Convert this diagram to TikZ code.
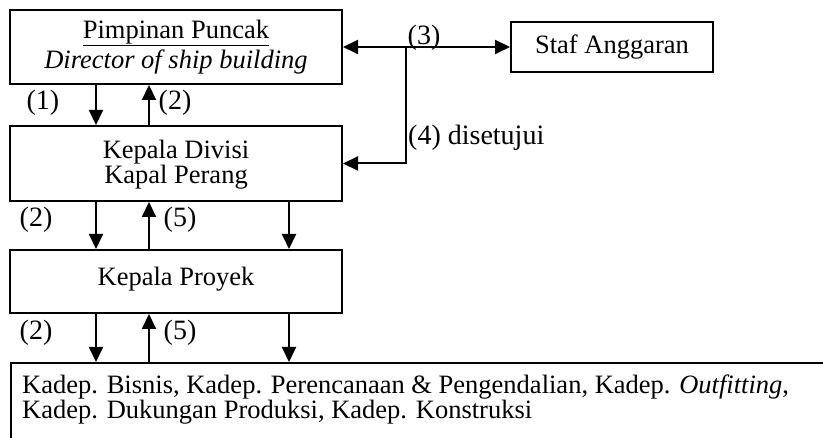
\documentclass[tikz,border=0pt]{standalone}
\usepackage{fontspec}
\setmainfont{Liberation Serif}
\usetikzlibrary{arrows.meta}
\tikzset{
  boxn/.style={draw, line width=2pt, rectangle, inner sep=0pt},
  btxt/.style={font=\fontsize{26.5}{28}\selectfont, inner sep=0pt, align=center},
  lbl/.style={font=\fontsize{28}{30}\selectfont, inner sep=0pt},
  arr/.style={line width=2pt, -{Triangle[length=15pt,width=14pt]}},
}
\begin{document}
\begin{tikzpicture}[x=1pt,y=-1pt]
\useasboundingbox (0,0) rectangle (823,438);
% boxes
\node[boxn, minimum width=332pt, minimum height=74pt] (top) at (176,47) {};
\node[boxn, minimum width=202pt, minimum height=50pt] (staf) at (612,47) {};
\node[boxn, minimum width=332pt, minimum height=75pt] (div) at (176,163.5) {};
\node[boxn, minimum width=332pt, minimum height=63pt] (proy) at (176,281.5) {};
\node[boxn, anchor=north west, minimum width=840pt, minimum height=100pt] (bot) at (10,362) {};
% texts
\node[btxt] (t1) at (176,33) {\underline{Pimpinan Puncak}};
\node[btxt] (t2) at (176,62) {\itshape Director of ship building};
\node[btxt] (staft) at (612,47) {Staf Anggaran};
\node[btxt] (d1) at (176,152) {Kepala Divisi};
\node[btxt] (d2) at (176,177) {Kapal Perang};
\node[btxt] (pt) at (176,279) {Kepala Proyek};
\node[btxt, anchor=west] (b1) at (22,387) {Kadep. Bisnis, Kadep. Perencanaan \& Pengendalian, Kadep. \textit{Outfitting},};
\node[btxt, anchor=west] (b2) at (22,412) {Kadep. Dukungan Produksi, Kadep. Konstruksi};
% column coordinates
\coordinate (c1) at (96,0);
\coordinate (c2) at (149,0);
\coordinate (c3) at (289,0);
\coordinate (j) at (406,47);
% top <-> div
\draw[arr] (top.south -| c1) -- (div.north -| c1);
\draw[arr] (div.north -| c2) -- (top.south -| c2);
% div <-> proy
\draw[arr] (div.south -| c1) -- (proy.north -| c1);
\draw[arr] (proy.north -| c2) -- (div.south -| c2);
\draw[arr] (div.south -| c3) -- (proy.north -| c3);
% proy <-> bot
\draw[arr] (proy.south -| c1) -- (bot.north -| c1);
\draw[arr] (bot.north -| c2) -- (proy.south -| c2);
\draw[arr] (proy.south -| c3) -- (bot.north -| c3);
% right side
\draw[arr] (j) -- (top.east);
\draw[arr] (j) -- (staf.west);
\draw[arr] (j) |- (div.east);
% labels
\node[lbl] (l1) at (43,103) {(1)};
\node[lbl] (l2) at (175,103) {(2)};
\node[lbl] (l3) at (36,220) {(2)};
\node[lbl] (l4) at (180,220) {(5)};
\node[lbl] (l5) at (36,333) {(2)};
\node[lbl] (l6) at (180,333) {(5)};
\node[lbl] (l7) at (424,38) {(3)};
\node[lbl, anchor=west] (l8) at (408,138) {(4) disetujui};
\end{tikzpicture}
\end{document}
